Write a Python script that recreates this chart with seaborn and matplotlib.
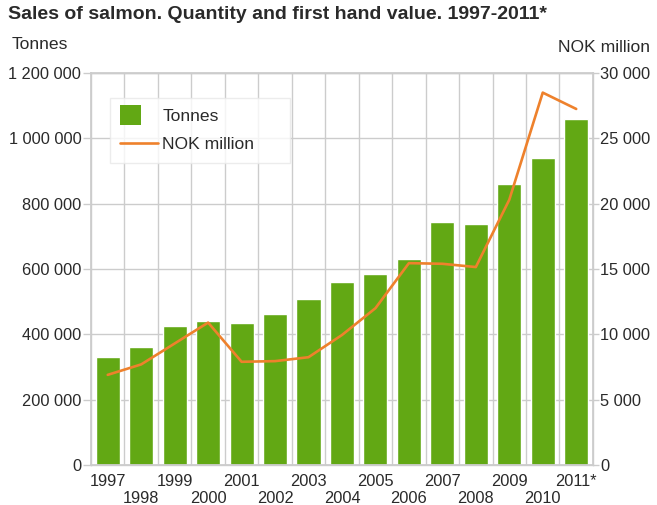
import numpy as np
import pandas as pd
import matplotlib
matplotlib.use("Agg")
import matplotlib.pyplot as plt
import seaborn as sns
from matplotlib.ticker import FuncFormatter, FixedLocator
from matplotlib.legend_handler import HandlerPatch
from matplotlib.patches import Rectangle

years = ["1997", "1998", "1999", "2000", "2001", "2002", "2003", "2004",
         "2005", "2006", "2007", "2008", "2009", "2010", "2011*"]
tonnes = [330000, 362000, 425000, 441000, 436000, 462000, 507000, 561000,
          585000, 630000, 743000, 738000, 860000, 939000, 1060000]
nok_million = [6900, 7700, 9300, 10900, 7900, 7950, 8250, 9950,
               12000, 15450, 15400, 15150, 20300, 28500, 27250]

sns.set_theme(style="white")
plt.rcParams['font.family'] = ['Liberation Sans', 'DejaVu Sans']

df = pd.DataFrame({"year": years, "tonnes": tonnes, "nok": nok_million})

fig = plt.figure(figsize=(6.57, 5.05), dpi=100)
ax = fig.add_axes([0.1385, 0.0792, 0.764, 0.7762])

green = "#62a814"
orange = "#ee812c"
grid_c = "#cccccc"
txt_c = "#2a2a2a"
fs = 11.8
fs_lab = 12.6

sns.barplot(data=df, x="year", y="tonnes", color=green, width=0.72,
            saturation=1, ax=ax, zorder=2)
ax.set_xlim(-0.5, len(years) - 0.5)
ax.set_ylim(0, 1200000)
ax.set_yticks(np.arange(0, 1200001, 200000))
sp = lambda v, p: f"{int(v):,}".replace(",", " ")
ax.yaxis.set_major_formatter(FuncFormatter(sp))
ax.xaxis.set_minor_locator(FixedLocator(np.arange(0.5, len(years) - 1, 1)))
ax.grid(True, which="major", axis="y", color=grid_c, lw=1, zorder=0)
ax.grid(True, which="minor", axis="x", color=grid_c, lw=1, zorder=0)
ax.set_axisbelow(True)
ax.set_xlabel("")
ax.set_ylabel("")

# staggered year labels: first row on the axis, second row on a secondary axis
pos = np.arange(len(years))
ax.set_xticks(pos[0::2], labels=years[0::2], fontsize=fs, color=txt_c)
ax.tick_params(axis="x", which="both", length=0, pad=6.5)
sec = ax.secondary_xaxis("bottom")
sec.set_xticks(pos[1::2], labels=years[1::2], fontsize=fs, color=txt_c)
sec.tick_params(axis="x", length=0, pad=18.5)
sec.spines["bottom"].set_visible(False)

ax.tick_params(axis="y", length=6, width=1, color=grid_c, labelsize=fs,
               labelcolor=txt_c, pad=1, left=True)
for s in ax.spines.values():
    s.set_color(grid_c)
    s.set_linewidth(1)

ax2 = ax.twinx()
sns.lineplot(x=pos, y=nok_million, ax=ax2, color=orange,
             lw=1.9, label="NOK million", legend=False, zorder=3)
ax2.set_ylim(0, 30000)
ax2.set_yticks(np.arange(0, 30001, 5000))
ax2.yaxis.set_major_formatter(FuncFormatter(sp))
ax2.tick_params(axis="y", length=4, width=1, color=grid_c, labelsize=fs,
                labelcolor=txt_c, pad=1, right=True)
ax2.grid(False)
for s in ax2.spines.values():
    s.set_color(grid_c)


def square_patch(legend, orig_handle, xdescent, ydescent, width, height, fontsize):
    side = fontsize * 1.15
    return Rectangle((-xdescent, -ydescent - (side - height) / 2), side, side)


bar_proxy = Rectangle((0, 0), 1, 1, facecolor=green, edgecolor="none")
h2, l2 = ax2.get_legend_handles_labels()
if ax.get_legend() is not None:
    ax.get_legend().remove()
leg = ax2.legend([bar_proxy] + h2, ["Tonnes", "NOK million"], loc="upper left",
                 bbox_to_anchor=(0.0378, 0.778, 0.3586, 0.158), mode="expand",
                 fontsize=fs_lab, frameon=True,
                 fancybox=False, edgecolor="#e8e8e8", handlelength=2.15,
                 borderpad=0.6, labelspacing=0.75, handletextpad=0.25,
                 borderaxespad=0,
                 handler_map={Rectangle: HandlerPatch(patch_func=square_patch)})
leg.get_frame().set_linewidth(1)
for t in leg.get_texts():
    t.set_color(txt_c)

fig.text(0.012, 0.972, "Sales of salmon. Quantity and first hand value. 1997-2011*",
         fontsize=14, fontweight="bold", color=txt_c, va="center")
fig.text(0.018, 0.911, "Tonnes", fontsize=fs_lab, color=txt_c, va="center")
fig.text(0.99, 0.905, "NOK million", fontsize=fs_lab, color=txt_c, va="center", ha="right")

fig.savefig("out.png", dpi=100)
